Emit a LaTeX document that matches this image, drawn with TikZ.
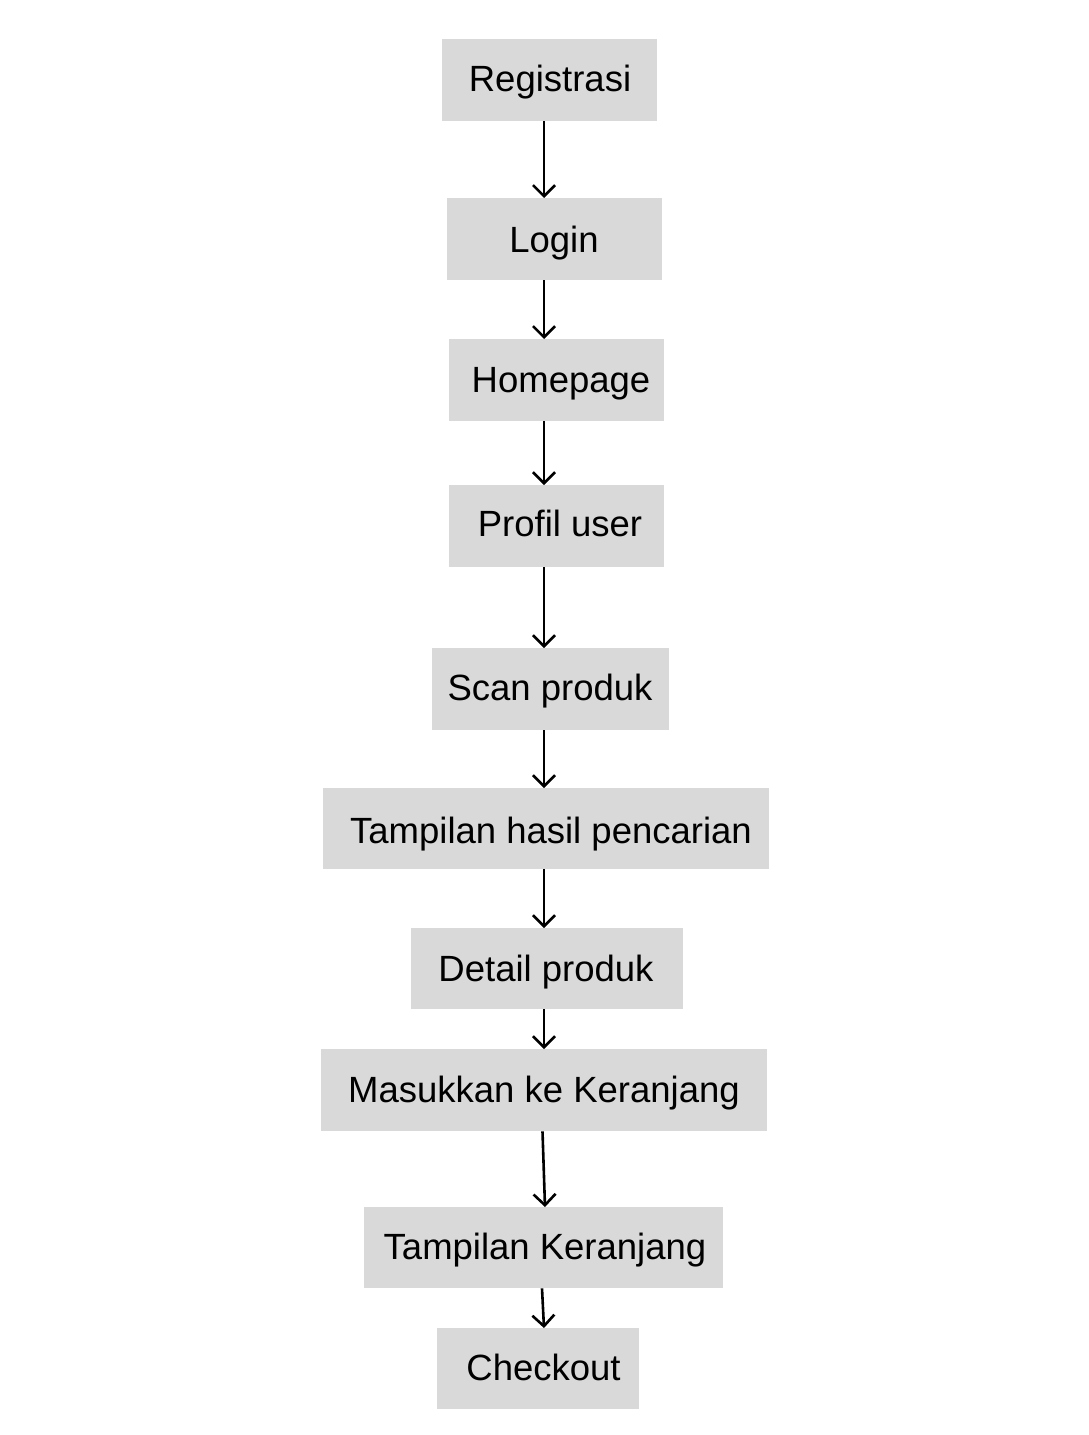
\documentclass[tikz,border=0pt]{standalone}
\usepackage{fontspec}
\setmainfont{Liberation Sans}
\usetikzlibrary{arrows.meta}
\begin{document}
\begin{tikzpicture}[x=1pt,y=-1pt,
  boxstyle/.style={fill=boxgray,draw=none,inner sep=0pt,anchor=north west},
  lbl/.style={anchor=base,inner sep=0pt,font=\fontsize{36.5}{44}\selectfont,text=black},
  arr/.style={line width=2.6pt,-{Straight Barb[length=11pt,width=22pt,line width=2.6pt]},draw=black}]
\definecolor{boxgray}{HTML}{D9D9D9}
\useasboundingbox[fill=white] (0,0) rectangle (1089,1435);
% boxes: x1,y1 and sizes
\node[boxstyle,minimum width=215pt,minimum height=82pt] (b1) at (442,39) {};
\node[boxstyle,minimum width=215pt,minimum height=82pt] (b2) at (447,198) {};
\node[boxstyle,minimum width=215pt,minimum height=82pt] (b3) at (449,339) {};
\node[boxstyle,minimum width=215pt,minimum height=82pt] (b4) at (449,485) {};
\node[boxstyle,minimum width=237pt,minimum height=82pt] (b5) at (432,648) {};
\node[boxstyle,minimum width=446pt,minimum height=81pt] (b6) at (323,788) {};
\node[boxstyle,minimum width=272pt,minimum height=81pt] (b7) at (411,928) {};
\node[boxstyle,minimum width=446pt,minimum height=82pt] (b8) at (321,1049) {};
\node[boxstyle,minimum width=359pt,minimum height=81pt] (b9) at (364,1207) {};
\node[boxstyle,minimum width=202pt,minimum height=81pt] (b10) at (437,1328) {};
% labels
\node[lbl] (t1) at (550,91) {Registrasi};
\node[lbl] (t2) at (554,252.7) {Login};
\node[lbl] (t3) at (561,392.7) {Homepage};
\node[lbl] (t4) at (560,536.7) {Profil user};
\node[lbl] (t5) at (550,700) {Scan produk};
\node[lbl] (t6) at (551,843.7) {Tampilan hasil pencarian};
\node[lbl] (t7) at (546,981.7) {Detail produk};
\node[lbl] (t8) at (544,1102.7) {Masukkan ke Keranjang};
\node[lbl] (t9) at (545,1259) {Tampilan Keranjang};
\node[lbl] (t10) at (543.5,1380) {Checkout};
% arrow x positions
\coordinate (ax) at (544,0);
\coordinate (ax8) at (542.5,0);
\coordinate (ax9) at (545,0);
\coordinate (ax9b) at (542,0);
\coordinate (ax10) at (544,0);
\draw[arr] (b1.south -| ax) -- (b2.north -| ax);
\draw[arr] (b2.south -| ax) -- (b3.north -| ax);
\draw[arr] (b3.south -| ax) -- (b4.north -| ax);
\draw[arr] (b4.south -| ax) -- (b5.north -| ax);
\draw[arr] (b5.south -| ax) -- (b6.north -| ax);
\draw[arr] (b6.south -| ax) -- (b7.north -| ax);
\draw[arr] (b7.south -| ax) -- (b8.north -| ax);
\draw[arr] (b8.south -| ax8) -- (b9.north -| ax9);
\draw[arr] (b9.south -| ax9b) -- (b10.north -| ax10);
\end{tikzpicture}
\end{document}
